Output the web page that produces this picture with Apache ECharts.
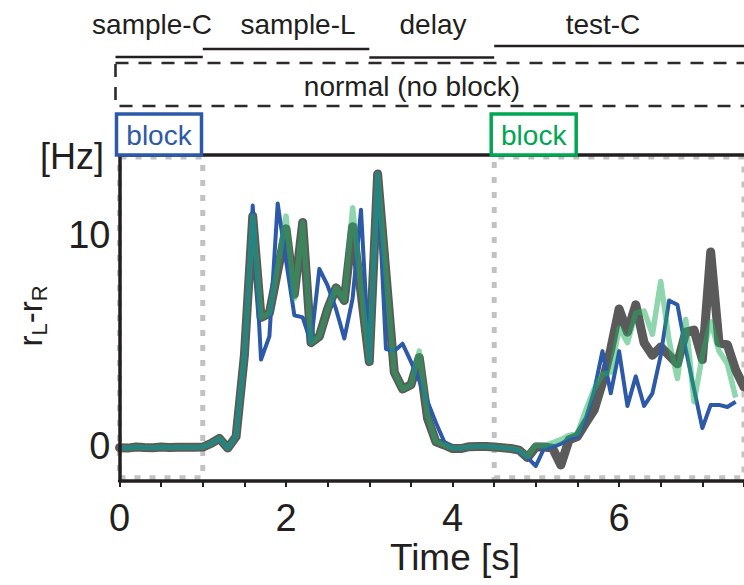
<!DOCTYPE html>
<html>
<head>
<meta charset="utf-8">
<script src="https://cdn.jsdelivr.net/npm/echarts@6/dist/echarts.min.js"></script>
<style>
  html, body { margin: 0; padding: 0; background: #fff; }
  #chart { width: 744px; height: 585px; }
</style>
</head>
<body>
<div id="chart"></div>
<script>
// time bins (s)
const timeS = [
  0.0, 0.1, 0.2, 0.3, 0.4, 0.5, 0.6, 0.7, 0.8, 0.9,
  1.0, 1.1, 1.2, 1.3, 1.4, 1.5, 1.6, 1.7, 1.8, 1.9,
  2.0, 2.1, 2.2, 2.3, 2.4, 2.5, 2.6, 2.7, 2.8, 2.9,
  3.0, 3.1, 3.2, 3.3, 3.4, 3.5, 3.6, 3.7, 3.8, 3.9,
  4.0, 4.1, 4.2, 4.3, 4.4, 4.5, 4.6, 4.7, 4.8, 4.9,
  5.0, 5.1, 5.2, 5.3, 5.4, 5.5, 5.6, 5.7, 5.8, 5.9,
  6.0, 6.1, 6.2, 6.3, 6.4, 6.5, 6.6, 6.7, 6.8, 6.9,
  7.0, 7.1, 7.2, 7.3, 7.4, 7.5
];
// r_L - r_R [Hz], normal (no block)
const normalRate = [
  -0.08, -0.1, -0.05, -0.07, -0.08, -0.05, -0.07, -0.06, -0.06, -0.06,
  -0.05, 0.12, 0.36, -0.1, 0.44, 4.3, 10.9, 6.1, 6.3, 8.3,
  10.3, 7.2, 10.6, 4.9, 5.2, 6.5, 7.5, 6.9, 10.4, 7.3,
  4.0, 12.9, 8.2, 3.5, 2.7, 2.9, 4.2, 1.3, 0.2, 0.05,
  -0.12, -0.12, -0.03, -0.02, -0.02, -0.05, -0.08, -0.12, -0.2, -0.55,
  -0.05, -0.05, -0.1, -0.9, 0.3, 0.45, 1.1, 1.7, 3.0, 4.6,
  6.5, 5.4, 6.7, 4.9, 4.3, 4.7, 4.3, 3.9, 5.4, 5.5,
  4.1, 9.2, 4.9, 4.8, 3.6, 2.8
];
// block during sample-C (blue)
const blockSampleRate = [
  -0.08, -0.1, -0.05, -0.07, -0.08, -0.05, -0.07, -0.06, -0.06, -0.06,
  -0.05, 0.12, 0.36, -0.1, 0.44, 4.3, 11.4, 4.1, 5.2, 11.5,
  8.8, 6.2, 6.1, 4.9, 8.4, 7.6, 6.5, 5.1, 7.0, 11.2,
  4.0, 12.9, 4.6, 4.5, 4.85, 4.0, 3.1, 2.1, 1.1, 0.2,
  -0.1, -0.12, -0.03, -0.02, -0.02, -0.05, -0.08, -0.12, -0.25, -0.55,
  -0.95, -0.1, -0.05, 0.1, 0.35, 0.45, 1.3, 2.6, 4.5, 2.5,
  4.5, 1.9, 3.3, 1.9, 2.5, 4.3, 6.9, 6.7, 4.6, 2.7,
  0.85, 1.95, 1.95, 1.85, 2.1, null
];
// block during test-C (green)
const blockTestRate = [
  -0.08, -0.1, -0.05, -0.07, -0.08, -0.05, -0.07, -0.06, -0.06, -0.06,
  -0.05, 0.12, 0.36, -0.1, 0.44, 4.3, 10.9, 6.1, 6.3, 8.5,
  10.9, 7.0, 10.6, 4.9, 5.2, 6.5, 7.5, 6.9, 11.3, 7.5,
  4.0, 12.9, 8.2, 3.5, 2.7, 2.9, 4.5, 1.4, 0.2, 0.05,
  -0.1, -0.1, -0.03, -0.02, -0.02, -0.05, -0.08, -0.12, -0.2, -0.5,
  0.05, 0.0, 0.15, 0.3, 0.5, 0.6, 1.7, 2.7, 3.4, 3.5,
  5.6, 4.9, 6.3, 6.4, 5.3, 7.8, 5.0, 3.2, 6.0, 2.1,
  4.3, 5.9, 4.5, 3.9, 2.3, null
];
// axis ticks
const xTickLabels = [0, 2, 4, 6];
const xTickMarks = [0, 0.5, 1, 1.5, 2, 2.5, 3, 3.5, 4, 4.5, 5, 5.5, 6, 6.5, 7, 7.5];
const yTickLabels = [0, 10];
// task epochs (s)
const epochNames = ['sample-C', 'sample-L', 'delay', 'test-C'];
const epochStart = [0, 1, 3, 4.5];
const epochEnd = [1, 3, 4.5, 9];
// block windows (s) and their colours
const blockStart = [0, 4.5];
const blockEnd = [1, 9];
const blockColors = ['#2c59a8', '#00a651'];

const FONT = 'Liberation Sans, Arial, Helvetica, sans-serif';
const INK = '#231f20';

function pairs(vals) {
  return timeS.map((t, i) => [t, vals[i]]);
}

const chart = echarts.init(document.getElementById('chart'), null, { renderer: 'svg' });

const option = {
  animation: false,
  grid: { left: 119.5, right: 0, top: 155, bottom: 104 },
  xAxis: [
    {
      type: 'value', min: 0, max: 7.5, z: 5,
      axisLine: { onZero: false, lineStyle: { color: INK, width: 3.5 } },
      axisTick: { customValues: xTickMarks, length: 6, lineStyle: { color: INK, width: 2 } },
      axisLabel: { customValues: xTickLabels, margin: 18, fontSize: 38, color: INK, fontFamily: FONT },
      splitLine: { show: false }
    },
    {
      type: 'value', min: 0, max: 7.5, position: 'top', z: 5,
      axisLine: { onZero: false, lineStyle: { color: INK, width: 3.5 } },
      axisTick: { show: false }, axisLabel: { show: false }, splitLine: { show: false }
    }
  ],
  yAxis: {
    type: 'value', min: -1.66, max: 13.8, z: 5,
    axisLine: { show: true, onZero: false, lineStyle: { color: INK, width: 3.5 } },
    axisTick: { show: false },
    axisLabel: { customValues: yTickLabels, margin: 9, fontSize: 38, color: INK, fontFamily: FONT },
    splitLine: { show: false }
  },
  series: [
    {
      name: 'normal', type: 'line', showSymbol: false,
      data: pairs(normalRate),
      lineStyle: { color: '#5a5a5a', width: 9, cap: 'round', join: 'round' },
      markArea: {
        silent: true,
        itemStyle: { color: 'rgba(0,0,0,0)', borderColor: '#c2c2c2', borderWidth: 5, borderType: [6, 9] },
        data: blockStart.map((s, i) => [{ xAxis: s, yAxis: -1.5 }, { xAxis: blockEnd[i], yAxis: 13.7 }])
      }
    },
    {
      name: 'block sample-C', type: 'line', showSymbol: false,
      data: pairs(blockSampleRate),
      lineStyle: { color: blockColors[0], width: 4, join: 'round' }
    },
    {
      name: 'block test-C', type: 'line', showSymbol: false,
      data: pairs(blockTestRate),
      lineStyle: { color: '#1fae5e', width: 5.5, opacity: 0.5, join: 'round' }
    }
  ]
};
chart.setOption(option);

// annotations above the plot
const px = t => chart.convertToPixel({ xAxisIndex: 0 }, t);
const epochLabelX = [152, 298, 433, 603];
const epochLineY = [57, 49, 57.5, 46];
const graphics = [];
epochNames.forEach((name, i) => {
  const x1 = i === 0 ? px(epochStart[i]) - 4 : px(epochStart[i]);
  graphics.push({
    type: 'line', silent: true,
    shape: { x1: x1, y1: epochLineY[i], x2: Math.min(px(epochEnd[i]), 760), y2: epochLineY[i] },
    style: { stroke: INK, lineWidth: 2.5 }
  });
  graphics.push({
    type: 'text', x: epochLabelX[i], y: 24,
    style: { text: name, fill: INK, fontSize: 28, fontFamily: FONT, align: 'center', verticalAlign: 'middle' }
  });
});
graphics.push({
  type: 'rect', silent: true,
  shape: { x: px(0) - 4, y: 63, width: 700, height: 43 },
  style: { fill: 'none', stroke: '#2b2b2b', lineWidth: 2.6, lineDash: [13, 10] }
});
graphics.push({
  type: 'text', x: 412, y: 86,
  style: { text: 'normal (no block)', fill: INK, fontSize: 28, fontFamily: FONT, align: 'center', verticalAlign: 'middle' }
});
blockStart.forEach((s, i) => {
  const left = px(s) - 3;
  graphics.push({
    type: 'rect', silent: true, z: 10,
    shape: { x: left, y: 114, width: 85, height: 41 },
    style: { fill: '#fff', stroke: blockColors[i], lineWidth: 3.5 }
  });
  graphics.push({
    type: 'text', x: left + 42.5, y: 135, z: 11,
    style: { text: 'block', fill: blockColors[i], fontSize: 28, fontFamily: FONT, align: 'center', verticalAlign: 'middle' }
  });
});
graphics.push({
  type: 'text', x: 72, y: 156,
  style: { text: '[Hz]', fill: INK, fontSize: 36, fontFamily: FONT, align: 'center', verticalAlign: 'middle' }
});
graphics.push({
  type: 'text', x: 455, y: 557,
  style: { text: 'Time [s]', fill: INK, fontSize: 37, fontFamily: FONT, align: 'center', verticalAlign: 'middle' }
});
graphics.push({
  type: 'text', x: 32, y: 316, rotation: Math.PI / 2,
  style: {
    text: '{m|r}{s|L}{m|-r}{s|R}',
    align: 'center', verticalAlign: 'middle',
    rich: {
      m: { fontSize: 33, fontFamily: FONT, fill: INK, lineHeight: 36, verticalAlign: 'top' },
      s: { fontSize: 22, fontFamily: FONT, fill: INK, lineHeight: 22, verticalAlign: 'bottom' }
    }
  }
});
chart.setOption({ graphic: graphics });
</script>
</body>
</html>
